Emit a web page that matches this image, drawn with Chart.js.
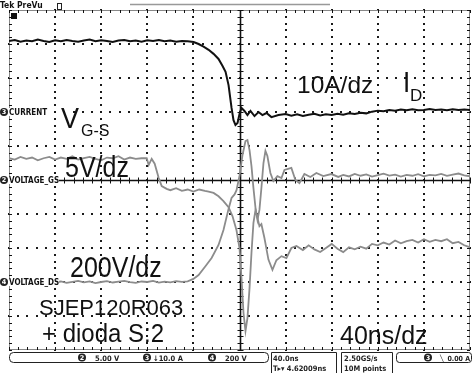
<!DOCTYPE html>
<html>
<head>
<meta charset="utf-8">
<script src="https://cdn.jsdelivr.net/npm/chart.js@4"></script>
<style>
  html, body { margin: 0; padding: 0; background: #fff; }
  canvas { display: block; }
</style>
</head>
<body>
<canvas id="scope" width="474" height="373"></canvas>
<script>
// time base: 40 ns/div, trigger at centre
const curTime = [-200,-195,-190,-185,-180,-175,-170,-165,-160,-155,-150,-145,-140,-135,-130,-125,-120,-115,-110,-105,-100,-95,-90,-85,-80,-75,-70,-65,-60,-55,-50,-45,
  -39.8,-35.5,-31.2,-26.8,-22.5,-18.2,-14.7,-12.1,-9.5,-6.9,-5.2,-3.5,-1.7,0,1.7,4.3,6.9,9.5,13,16.5,19.9,23.4,27.7,33.8,
  40,45,50,55,60,65,70,75,80,85,90,95,100,105,110,115,120,125,130,135,140,145,150,155,160,165,170,175,180,185,190,195,200];
// I_D, 10 A/div
const curAmps = [20.9,21.2,20.7,21.0,20.8,21.3,20.9,20.6,21.1,20.8,21.2,20.9,20.7,21.0,21.3,20.8,21.1,20.9,20.6,21.0,21.2,20.8,21.0,20.7,21.1,20.9,21.2,20.8,21.0,20.7,20.9,20.8,
  20.6,20.0,19.2,18.3,17.1,15.6,13.5,11.8,7.9,1.2,-2.4,-3.8,-3.2,-0.6,1.2,0.3,-0.9,0.3,-1.2,0,-0.9,-0.3,-1.5,-0.9,
  -0.6,-1.1,-0.7,-1.2,-0.8,-0.5,-1.0,-0.7,-0.9,-0.5,-0.8,-0.4,-0.6,-0.2,-0.4,0.1,0.4,0.2,0.6,0.4,0.7,0.5,0.8,0.5,0.6,0.9,0.6,0.7,0.5,0.8,0.6,0.7,0.6];

const vgsTime = [-200,-195,-190,-185,-180,-175,-170,-165,-160,-155,-150,-145,-140,-135,-130,-125,-120,-115,-110,-105,-100,-95,-90,-85,
  -80.5,-78.8,-76.2,-73.6,-70.1,-67.5,-63.2,-60,-55,-50,-45,-40,-35,-30,-26.8,-22.5,-18.2,-13.9,-9.5,-6.1,-2.6,0,1.7,3.5,5.2,6.9,8.7,10.4,12.1,13.9,15.6,17.3,19,21.6,25.1,28.6,32,36.4,40.7,45,49.4,
  55,60,65,70,75,80,85,90,95,100,105,110,115,120,125,130,135,140,145,150,155,160,165,170,175,180,185,190,195,200];
// V_GS, 5 V/div
const vgsVolts = [3.2,3.0,3.4,3.1,3.3,2.9,3.2,3.4,3.0,3.3,3.1,3.5,3.0,3.2,3.4,3.1,2.9,3.3,3.2,3.5,3.0,3.3,3.1,3.2,
  3.2,2.2,3.1,2.4,0.3,-0.9,-1.3,-1.5,-1.2,-1.6,-1.4,-1.7,-1.4,-1.6,-1.7,-1.9,-2.4,-3.1,-4.0,-5.3,-7.4,-10,-14.4,-19.6,-22.2,-20.3,-15.9,-10.7,-6.3,-4.4,-5.6,-6.8,-6.5,-8.5,-11.7,-13.2,-11.8,-11.2,-11.5,-10,-9.7,
  -10.3,-9.6,-10.2,-10.6,-10.0,-9.4,-10.1,-10.6,-9.9,-10.2,-9.8,-10.1,-9.4,-9.6,-9.2,-9.5,-8.9,-9.3,-9.0,-8.8,-9.2,-8.7,-9.1,-8.8,-9.0,-8.7,-9.3,-9.1,-9.6,-9.9];

const vdsTime = [-200,-195,-190,-185,-180,-175,-170,-165,-160,-155,-150,-145,-140,-135,-130,-125,-120,-115,-110,-105,-100,-95,-90,-85,-80,-75,-70,-65,-60,-55,-50,
  -45,-40,-35.5,-29.4,-24.2,-18.2,-13.9,-9.5,-6.9,-4.3,-2.6,0,2.6,5.2,6.9,8.7,10.4,12.1,13.9,15.6,17.3,19,20.8,22.5,24.2,26.8,29.4,32.9,36.4,39,45,48.5,52,56.3,61.5,66.7,72.7,79.7,85.7,
  90,95,100,105,110,115,120,125,130,135,140,145,150,155,160,165,170,175,180,185,190,195,200];
// V_DS, 200 V/div
const vdsVolts = [2,-4,6,0,-6,4,-2,8,-3,3,-5,1,6,-2,4,-6,0,5,-3,2,7,-1,-5,3,0,6,-4,2,-2,5,1,
  4,18,41,94,141,218,306,430,494,515,540,624,747,829,835,776,682,553,435,365,424,553,700,771,741,641,594,623,612,659,671,600,582,635,618,641,623,635,618,
  630,621,636,625,633,620,628,637,626,632,620,630,625,634,622,630,627,636,624,631,638,627,622];

function pts(ts, vs) { return ts.map((t, i) => ({ x: t, y: vs[i] })); }

function txt(ctx, s, x, y, size, o = {}) {
  ctx.save();
  ctx.font = (o.bold ? 'bold ' : '') + size + 'px ' + (o.family || '"Liberation Sans", Arial, sans-serif');
  ctx.fillStyle = o.color || '#111';
  ctx.textBaseline = 'alphabetic';
  ctx.textAlign = o.align || 'left';
  ctx.translate(x, y);
  ctx.scale(1, o.sy || 1);
  ctx.fillText(s, 0, 0);
  ctx.restore();
}

function badge(ctx, n, x, y) {
  ctx.save();
  ctx.fillStyle = '#222';
  ctx.beginPath(); ctx.arc(x, y, 4, 0, Math.PI * 2); ctx.fill();
  ctx.fillStyle = '#fff';
  ctx.font = 'bold 6.5px "DejaVu Sans"';
  ctx.textAlign = 'center'; ctx.textBaseline = 'middle';
  ctx.fillText(n, x, y + 0.5);
  ctx.restore();
}

const graticule = {
  id: 'graticule',
  beforeDatasetsDraw(chart) {
    const { ctx, chartArea: a, scales: { x, y } } = chart;
    const cx = Math.round(x.getPixelForValue(0)) + 0.5;
    const cy = Math.round(y.getPixelForValue(0)) + 0.5;
    ctx.save();
    // dotted division lines
    ctx.fillStyle = '#1a1a1a';
    for (let t = -160; t <= 160; t += 40) {
      if (t === 0) continue;
      const px = Math.round(x.getPixelForValue(t));
      for (let d = -25; d <= 25; d++) {
        const py = Math.round(y.getPixelForValue(d / 5));
        ctx.fillRect(px - 1, py - 1, 2, 2);
      }
    }
    for (let v = -4; v <= 4; v++) {
      if (v === 0) continue;
      const py = Math.round(y.getPixelForValue(v));
      for (let t = -200; t <= 200; t += 8) {
        const px = Math.round(x.getPixelForValue(t));
        ctx.fillRect(px - 1, py - 1, 2, 2);
      }
    }
    // frame, centre axes and minor ticks
    ctx.strokeStyle = '#888';
    ctx.lineWidth = 1;
    ctx.strokeRect(a.left + 0.5, a.top + 0.5, a.width - 1, a.height - 1);
    ctx.strokeStyle = '#111';
    ctx.beginPath();
    for (let t = -200; t <= 200; t += 8) {
      const px = Math.round(x.getPixelForValue(t)) + 0.5;
      ctx.moveTo(px, cy - 3); ctx.lineTo(px, cy + 3);
      ctx.moveTo(px, a.top); ctx.lineTo(px, a.top + 3);
      ctx.moveTo(px, a.bottom); ctx.lineTo(px, a.bottom - 3);
    }
    for (let d = -25; d <= 25; d++) {
      const py = Math.round(y.getPixelForValue(d / 5)) + 0.5;
      ctx.moveTo(cx - 3, py); ctx.lineTo(cx + 3, py);
      ctx.moveTo(a.left, py); ctx.lineTo(a.left + 3, py);
      ctx.moveTo(a.right, py); ctx.lineTo(a.right - 3, py);
    }
    ctx.stroke();
    ctx.lineWidth = 1.6;
    ctx.beginPath();
    ctx.moveTo(cx, a.top); ctx.lineTo(cx, a.bottom);
    ctx.moveTo(a.left, cy); ctx.lineTo(a.right, cy);
    ctx.stroke();
    ctx.restore();
  },
  afterDraw(chart) {
    const { ctx, scales } = chart;
    const mono = '"DejaVu Sans Condensed", "DejaVu Sans", sans-serif';
    // header
    txt(ctx, 'Tek PreVu', 0, 8, 8.5, { bold: true, family: mono });
    ctx.save();
    ctx.strokeStyle = '#222'; ctx.lineWidth = 1;
    ctx.strokeRect(57.5, 3.5, 4, 6);
    ctx.strokeStyle = '#999'; ctx.lineWidth = 1.5;
    ctx.beginPath(); ctx.moveTo(130, 4.5); ctx.lineTo(330, 4.5); ctx.stroke();
    ctx.fillStyle = '#111'; ctx.fillRect(11, 13, 6, 6);
    ctx.restore();

    // channel reference markers
    const yI = Math.round(scales.yI.getPixelForValue(0));
    const yG = Math.round(scales.yG.getPixelForValue(0));
    const yD = Math.round(scales.yD.getPixelForValue(0));
    [['3', 'CURRENT', yI, 40], ['2', 'VOLTAGE_GS', yG, 50], ['4', 'VOLTAGE_DS', yD, 50]].forEach(([n, s, py, w]) => {
      ctx.save(); ctx.fillStyle = '#fff'; ctx.fillRect(0, py - 4, 9 + w, 8); ctx.restore();
      badge(ctx, n, 4, py);
      txt(ctx, s, 9, py + 3, 8, { bold: true, family: mono });
    });

    // annotations
    txt(ctx, 'V', 61, 128, 27, { sy: 1.1 });
    txt(ctx, 'G-S', 81, 136, 16);
    txt(ctx, '5V/dz', 65, 177, 25, { sy: 1.18 });
    txt(ctx, '10A/dz', 297, 93, 24.5);
    txt(ctx, 'I', 403, 92, 26, { sy: 1.1 });
    txt(ctx, 'D', 410, 101, 17);
    txt(ctx, '200V/dz', 70, 277, 25, { sy: 1.15 });
    txt(ctx, 'SJEP120R063', 39, 315, 22);
    txt(ctx, '+ dioda S:2', 42, 342, 24, { sy: 1.1 });
    txt(ctx, '40ns/dz', 340, 344, 25);

    // status bar
    ctx.save();
    ctx.fillStyle = '#fff'; ctx.fillRect(0, 352, 474, 21);
    ctx.strokeStyle = '#222'; ctx.lineWidth = 1;
    ctx.beginPath(); ctx.roundRect(9.5, 352.5, 259, 10, 4); ctx.stroke();
    ctx.beginPath();
    ctx.moveTo(271.5, 373); ctx.lineTo(271.5, 352.5); ctx.lineTo(336.5, 352.5); ctx.lineTo(336.5, 373);
    ctx.moveTo(341.5, 373); ctx.lineTo(341.5, 352.5); ctx.lineTo(392.5, 352.5); ctx.lineTo(392.5, 373);
    ctx.stroke();
    ctx.beginPath(); ctx.roundRect(396.5, 352.5, 75, 10, 3); ctx.stroke();
    ctx.restore();
    const sb = { bold: true, family: mono, color: '#222' };
    badge(ctx, '2', 82, 357.5); txt(ctx, '5.00 V', 95, 360.5, 7.5, sb);
    badge(ctx, '3', 147, 357.5); txt(ctx, '\u219310.0 A', 153, 360.5, 7.5, sb);
    badge(ctx, '4', 212, 357.5); txt(ctx, '200 V', 225, 360.5, 7.5, sb);
    txt(ctx, '40.0ns', 273, 360.5, 7.5, sb);
    txt(ctx, 'T\u25B8\u25BE 4.62009ns', 273, 370.5, 7.5, sb);
    txt(ctx, '2.50GS/s', 344, 360.5, 7.5, sb);
    txt(ctx, '10M points', 344, 370.5, 7.5, sb);
    badge(ctx, '3', 428, 357.5); txt(ctx, '\u2572', 440, 360.5, 7, sb);
    txt(ctx, '0.00 A', 470, 360.5, 7, { ...sb, align: 'right' });
  }
};

const hidden = { display: false };

new Chart(document.getElementById('scope'), {
  type: 'line',
  data: {
    datasets: [
      { label: 'V_DS', data: pts(vdsTime, vdsVolts), yAxisID: 'yD', borderColor: '#8c8c8c', borderWidth: 1.8 },
      { label: 'V_GS', data: pts(vgsTime, vgsVolts), yAxisID: 'yG', borderColor: '#8c8c8c', borderWidth: 1.8 },
      { label: 'I_D', data: pts(curTime, curAmps), yAxisID: 'yI', borderColor: '#111', borderWidth: 2 }
    ]
  },
  options: {
    responsive: false,
    animation: false,
    devicePixelRatio: 1,
    layout: { padding: { left: 9, right: 4, top: 10, bottom: 23 } },
    elements: { point: { radius: 0 }, line: { tension: 0 } },
    plugins: { legend: { display: false }, tooltip: { enabled: false } },
    scales: {
      x: {
        type: 'linear', min: -200, max: 200,
        ticks: { display: false, stepSize: 40 },
        grid: { display: false, drawTicks: false },
        border: { display: false }
      },
      y: {
        min: -5, max: 5,
        ticks: { display: false, stepSize: 1 },
        grid: { display: false, drawTicks: false },
        border: { display: false }
      },
      yI: { ...hidden, min: -70, max: 30 },
      yG: { ...hidden, min: -25, max: 25 },
      yD: { ...hidden, min: -400, max: 1600 }
    }
  },
  plugins: [graticule]
});
</script>
</body>
</html>
